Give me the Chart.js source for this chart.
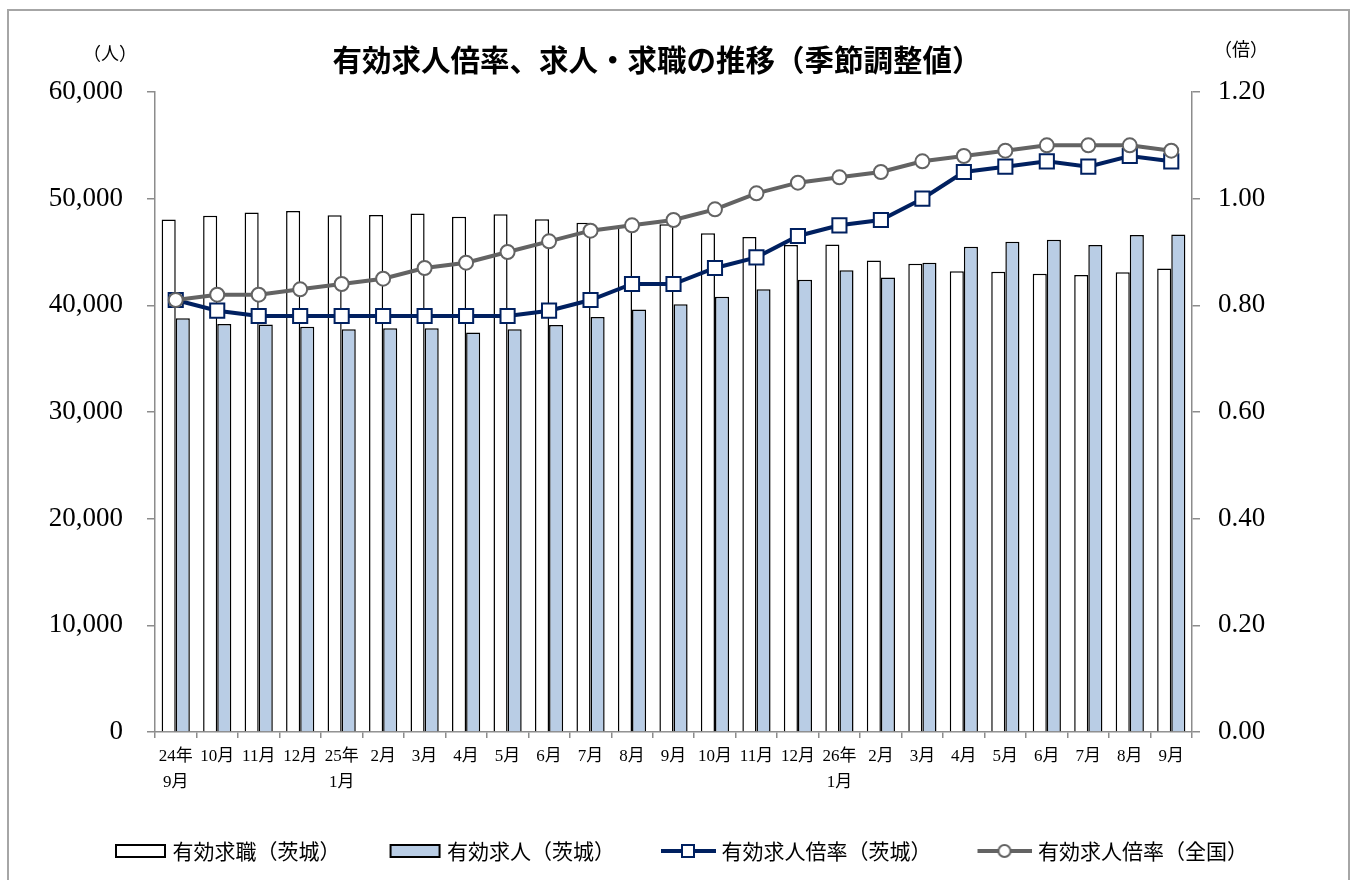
<!DOCTYPE html>
<html lang="ja">
<head>
<meta charset="utf-8">
<script src="https://cdn.jsdelivr.net/npm/chart.js@4.4.1/dist/chart.umd.min.js"></script>
<style>
  html, body { margin: 0; padding: 0; background: #fff; overflow: hidden; }
  #wrap { position: relative; width: 1362px; height: 880px; }
  #frame { position: absolute; left: 7px; top: 9px; width: 1343px; height: 900px; border: 2px solid #a6a6a6; box-sizing: border-box; }
  #c { position: absolute; left: 0; top: 0; }
</style>
</head>
<body>
<div id="wrap">
  <div id="frame"></div>
  <canvas id="c" width="1362" height="880"></canvas>
</div>
<script>
// ---- data ----
const categories = [["24年","9月"],"10月","11月","12月",["25年","1月"],"2月","3月","4月","5月","6月","7月","8月","9月","10月","11月","12月",["26年","1月"],"2月","3月","4月","5月","6月","7月","8月","9月"];
const jobSeekers = [48050, 48400, 48700, 48850, 48450, 48480, 48600, 48300, 48550, 48080, 47750, 47500, 47600, 46750, 46400, 45650, 45700, 44200, 43900, 43200, 43150, 42950, 42850, 43100, 43450];
const jobOffers = [38800, 38250, 38200, 38000, 37750, 37850, 37850, 37450, 37750, 38150, 38900, 39600, 40100, 40800, 41500, 42400, 43300, 42600, 44000, 45500, 45950, 46150, 45650, 46600, 46650];
const ratioIbaraki = [0.81, 0.79, 0.78, 0.78, 0.78, 0.78, 0.78, 0.78, 0.78, 0.79, 0.81, 0.84, 0.84, 0.87, 0.89, 0.93, 0.95, 0.96, 1.00, 1.05, 1.06, 1.07, 1.06, 1.08, 1.07];
const ratioNational = [0.81, 0.82, 0.82, 0.83, 0.84, 0.85, 0.87, 0.88, 0.90, 0.92, 0.94, 0.95, 0.96, 0.98, 1.01, 1.03, 1.04, 1.05, 1.07, 1.08, 1.09, 1.10, 1.10, 1.10, 1.09];
const seriesNames = ["有効求職（茨城）", "有効求人（茨城）", "有効求人倍率（茨城）", "有効求人倍率（全国）"];
const leftTicks = [0, 10000, 20000, 30000, 40000, 50000, 60000];
const rightTicks = [0, 0.2, 0.4, 0.6, 0.8, 1.0, 1.2];
const chartTitle = "有効求人倍率、求人・求職の推移（季節調整値）";
const leftUnit = "（人）";
const rightUnit = "（倍）";

// ---- styles ----
const NAVY = "#002060";
const GREY = "#636363";
const BLUE = "#b9cde5";
const AXIS = "#8c8c8c";
const SERIF = "'Liberation Serif', 'Noto Sans CJK JP', serif";
const CJK = "'Noto Sans CJK JP', 'Liberation Serif', sans-serif";

const BOXW = 96;
function makeIcon(kind) {
  const cv = document.createElement('canvas');
  cv.width = BOXW + 10; cv.height = 20;
  const g = cv.getContext('2d');
  const x0 = BOXW - 42; // icon start inside image
  if (kind === 'white' || kind === 'blue') {
    g.fillStyle = kind === 'white' ? '#ffffff' : BLUE;
    g.fillRect(x0 + 1, 4, 49, 12);
    g.lineWidth = 2;
    g.strokeStyle = '#000';
    g.strokeRect(x0 + 1, 4, 49, 12);
  } else {
    const col = kind === 'navy' ? NAVY : GREY;
    g.strokeStyle = col;
    g.lineWidth = 4;
    g.beginPath(); g.moveTo(x0 - 3, 10); g.lineTo(x0 + 52, 10); g.stroke();
    g.fillStyle = '#fff';
    g.lineWidth = 2;
    const cx = x0 + 24;
    if (kind === 'navy') {
      g.fillRect(cx - 6, 4, 12, 12);
      g.strokeRect(cx - 6, 4, 12, 12);
    } else {
      g.beginPath(); g.arc(cx, 10, 6, 0, Math.PI * 2); g.fill(); g.stroke();
    }
  }
  return cv;
}
const icons = [makeIcon('white'), makeIcon('blue'), makeIcon('navy'), makeIcon('grey')];

const unitPlugin = {
  id: 'units',
  afterDraw(chart) {
    const { ctx, chartArea } = chart;
    ctx.save();
    ctx.font = "18px " + CJK;
    ctx.fillStyle = '#000';
    ctx.textAlign = 'center';
    ctx.textBaseline = 'middle';
    ctx.fillText(leftUnit, chartArea.left - 45, chartArea.top - 39);
    ctx.fillText(rightUnit, chartArea.right + 49, chartArea.top - 43);
    ctx.restore();
  }
};

Chart.defaults.font.family = SERIF;
Chart.defaults.color = '#000';

new Chart(document.getElementById('c'), {
  type: 'bar',
  data: {
    labels: categories,
    datasets: [
      {
        type: 'bar', label: seriesNames[0], data: jobSeekers, yAxisID: 'y',
        backgroundColor: '#ffffff', borderColor: '#000', borderWidth: 1.5,
        categoryPercentage: 0.68, barPercentage: 1.0, order: 2
      },
      {
        type: 'bar', label: seriesNames[1], data: jobOffers, yAxisID: 'y',
        backgroundColor: BLUE, borderColor: '#000', borderWidth: 1.5,
        categoryPercentage: 0.68, barPercentage: 1.0, order: 2
      },
      {
        type: 'line', label: seriesNames[2], data: ratioIbaraki, yAxisID: 'y1',
        borderColor: NAVY, borderWidth: 4, tension: 0,
        pointStyle: 'rect', pointRadius: 10, pointBorderWidth: 2,
        pointBackgroundColor: '#fff', pointBorderColor: NAVY, order: 1
      },
      {
        type: 'line', label: seriesNames[3], data: ratioNational, yAxisID: 'y1',
        borderColor: GREY, borderWidth: 4, tension: 0,
        pointStyle: 'circle', pointRadius: 7, pointBorderWidth: 2,
        pointBackgroundColor: '#fff', pointBorderColor: GREY, order: 0
      }
    ]
  },
  options: {
    responsive: false,
    animation: false,
    devicePixelRatio: 1,
    layout: { padding: { left: 0, right: 48, top: 0, bottom: 8.5 } },
    plugins: {
      title: {
        display: true, text: chartTitle, color: '#000',
        font: { family: CJK, size: 29.5, weight: 'bold', lineHeight: 1.2 },
        padding: { top: 42, bottom: 14.6 }
      },
      legend: {
        display: true, position: 'bottom',
        labels: {
          usePointStyle: true, pointStyleWidth: BOXW, padding: 0,
          font: { family: CJK, size: 21 }, color: '#000',
          sort: (a, b) => a.datasetIndex - b.datasetIndex,
          generateLabels(chart) {
            const items = Chart.defaults.plugins.legend.labels.generateLabels(chart);
            items.forEach(it => { it.pointStyle = icons[it.datasetIndex]; });
            return items;
          }
        }
      },
      tooltip: { enabled: false }
    },
    scales: {
      x: {
        type: 'category',
        grid: { display: true, drawOnChartArea: false, drawTicks: true, tickLength: 6, color: AXIS, lineWidth: 1.5, offset: true },
        border: { display: true, color: AXIS, width: 1.5 },
        ticks: { font: { family: SERIF, size: 17, lineHeight: 1.53 }, color: '#000', padding: 6, maxRotation: 0, autoSkip: false },
        afterFit(s) { s.height = 108.5; }
      },
      y: {
        position: 'left', min: 0, max: 60000,
        afterBuildTicks(s) { s.ticks = leftTicks.map(v => ({ value: v })); },
        grid: { display: true, drawOnChartArea: false, drawTicks: true, tickLength: 8, color: AXIS, lineWidth: 1.5 },
        border: { display: true, color: AXIS, width: 1.5 },
        ticks: { font: { family: SERIF, size: 27 }, color: '#000', padding: 24,
          callback: v => Number(v).toLocaleString('en-US') },
        afterFit(s) { s.width = 155; }
      },
      y1: {
        position: 'right', min: 0, max: 1.2,
        afterBuildTicks(s) { s.ticks = rightTicks.map(v => ({ value: v })); },
        grid: { display: true, drawOnChartArea: false, drawTicks: true, tickLength: 8, color: AXIS, lineWidth: 1.5 },
        border: { display: true, color: AXIS, width: 1.5 },
        ticks: { font: { family: SERIF, size: 27 }, color: '#000', padding: 18,
          callback: v => Number(v).toFixed(2) },
        afterFit(s) { s.width = 122; }
      }
    }
  },
  plugins: [unitPlugin]
});
</script>
</body>
</html>
